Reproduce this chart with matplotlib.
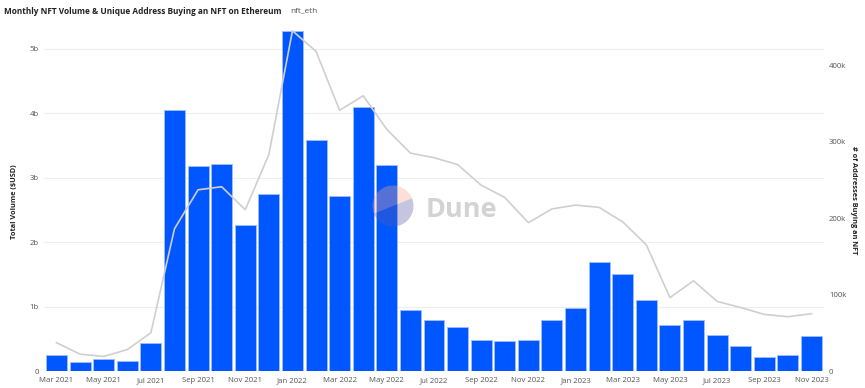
import matplotlib
matplotlib.use("Agg")
import matplotlib.pyplot as plt
from matplotlib.patches import Wedge
from matplotlib.ticker import FuncFormatter

months = ["Mar 2021", "Apr 2021", "May 2021", "Jun 2021", "Jul 2021", "Aug 2021", "Sep 2021",
          "Oct 2021", "Nov 2021", "Dec 2021", "Jan 2022", "Feb 2022", "Mar 2022", "Apr 2022",
          "May 2022", "Jun 2022", "Jul 2022", "Aug 2022", "Sep 2022", "Oct 2022", "Nov 2022",
          "Dec 2022", "Jan 2023", "Feb 2023", "Mar 2023", "Apr 2023", "May 2023", "Jun 2023",
          "Jul 2023", "Aug 2023", "Sep 2023", "Oct 2023", "Nov 2023"]

# Total volume in billions USD
volume_b = [0.25, 0.135, 0.186, 0.15, 0.43, 4.05, 3.18, 3.21, 2.27, 2.74, 5.28, 3.58, 2.71,
            4.09, 3.20, 0.95, 0.79, 0.68, 0.48, 0.465, 0.475, 0.79, 0.97, 1.69, 1.51, 1.10,
            0.72, 0.79, 0.555, 0.39, 0.21, 0.25, 0.54]

# Unique addresses buying an NFT (thousands)
buyers_k = [37, 22, 19, 28, 50, 186, 237, 241, 211, 283, 445, 418, 341, 360, 316, 285, 279,
            270, 243, 227, 194, 212, 217, 214, 195, 165, 96, 118, 91, 83, 74, 71, 75]

title = "Monthly NFT Volume & Unique Address Buying an NFT on Ethereum"
subtitle = "nft_eth"

plt.rcParams['font.family'] = ['Open Sans', 'DejaVu Sans']

W, H = 865, 388
fig = plt.figure(figsize=(W/100, H/100), dpi=100)
ax = fig.add_axes([44/W, 1-371/H, (824-44)/W, (371-30)/H])
ax2 = ax.twinx()

x = list(range(len(months)))
ax.bar(x, volume_b, width=0.89, color='#0057ff', edgecolor='#9dbcff', linewidth=0.7, zorder=2)
ax2.plot(x, buyers_k, color='#cfcfcf', linewidth=1.2, zorder=3)

ax.set_xlim(-0.53, len(months) - 0.47)
ax.set_ylim(0, 5.29)
ax2.set_ylim(0, 446)

ax.set_yticks([0, 1, 2, 3, 4, 5])
ax.yaxis.set_major_formatter(FuncFormatter(lambda v, p: "0" if v == 0 else f"{int(v)}b"))
ax2.set_yticks([0, 100, 200, 300, 400])
ax2.yaxis.set_major_formatter(FuncFormatter(lambda v, p: "0" if v == 0 else f"{int(v)}k"))

ax.set_xticks(x[::2])
ax.set_xticklabels(months[::2])

ax.grid(axis='y', color='#eeeeee', linewidth=0.8, zorder=0)
ax.set_axisbelow(True)
for a in (ax, ax2):
    for s in a.spines.values():
        s.set_visible(False)
    a.tick_params(length=0, labelsize=5.6, colors='#555555')
ax.tick_params(axis='y', pad=3.6)
ax.tick_params(axis='x', pad=4.5)
ax2.tick_params(axis='y', pad=3.6)

ax2.set_zorder(ax.get_zorder() + 1)
ax2.patch.set_visible(False)

# Title fitted to reference width
t = fig.text(4/W, 1-11/H, title, fontsize=7, fontweight='bold', color='#222222', va='center', ha='left')
fig.canvas.draw()
bb = t.get_window_extent(renderer=fig.canvas.get_renderer())
t.set_fontsize(7 * 278 / bb.width)
fig.text(290/W, 1-11/H, subtitle, fontsize=t.get_fontsize(), color='#555555', va='center', ha='left')

fig.text(15/W, 1-202/H, "Total Volume ($USD)", rotation=90, fontsize=5.3, fontweight='bold',
         color='#222222', va='center', ha='center')
fig.text(853/W, 1-200/H, "# of Addresses Buying an NFT", rotation=270, fontsize=5.3,
         fontweight='bold', color='#222222', va='center', ha='center')

# Dune watermark
cx, cy, r = 393, H-206, 20.5
wax = fig.add_axes([0, 0, 1, 1], facecolor='none')
wax.set_xlim(0, W)
wax.set_ylim(0, H)
wax.axis('off')
wax.add_patch(Wedge((cx, cy), r, 22, 202, facecolor='#f7a48c', alpha=0.35, edgecolor='none', zorder=5))
wax.add_patch(Wedge((cx, cy), r, 202, 382, facecolor='#5a5aa8', alpha=0.35, edgecolor='none', zorder=5))
wax.text(426, H-210, "Dune", fontsize=19.5, fontweight='bold', color='#c8c8c8', alpha=0.8,
         va='center', ha='left', zorder=5)

fig.savefig("out.png", dpi=100)
